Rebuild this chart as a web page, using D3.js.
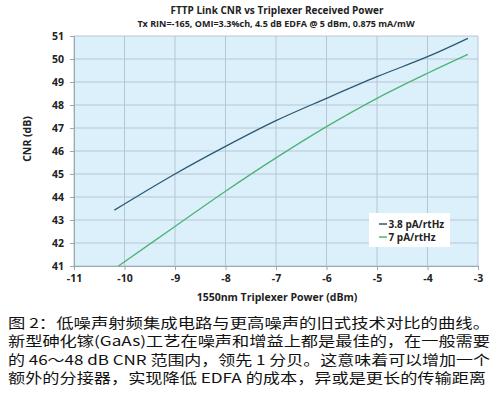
<!DOCTYPE html>
<html><head><meta charset="utf-8">
<script src="https://cdn.jsdelivr.net/npm/d3@7"></script>
<style>body{margin:0;background:#fff}svg{display:block}</style>
</head><body>
<script>
const xTicks = [-11,-10,-9,-8,-7,-6,-5,-4,-3];
const yTicks = [41,42,43,44,45,46,47,48,49,50,51];
const power38 = [-10.2,-9,-8,-7,-6,-5,-4,-3.2];
const cnr38 = [43.43,45.0,46.2,47.32,48.29,49.23,50.1,50.9];
const power7 = [-10.12,-9,-8,-7,-6,-5,-4,-3.2];
const cnr7 = [41.0,42.72,44.25,45.7,47.06,48.29,49.38,50.2];
const seriesNames = ["3.8 pA/rtHz","7 pA/rtHz"];
const title = "FTTP Link CNR vs Triplexer Received Power";
const subtitle = "Tx RIN=-165, OMI=3.3%ch, 4.5 dB EDFA @ 5 dBm, 0.875 mA/mW";
const xTitle = "1550nm Triplexer Power (dBm)";
const yTitle = "CNR (dB)";
const caption = ["图 2：低噪声射频集成电路与更高噪声的旧式技术对比的曲线。",
  "新型砷化镓(GaAs)工艺在噪声和增益上都是最佳的，在一般需要",
  "的 46～48 dB CNR 范围内，领先 1 分贝。这意味着可以增加一个",
  "额外的分接器，实现降低 EDFA 的成本，异或是更长的传输距离"];

const W=500,H=420;
const m={l:74,r:22,t:36,b:154};
const svg=d3.select("body").append("svg").attr("width",W).attr("height",H);
const x=d3.scaleLinear().domain([-11,-3]).range([m.l,W-m.r]);
const y=d3.scaleLinear().domain([41,51]).range([H-m.b,m.t]);
const font="'Open Sans', 'DejaVu Sans', sans-serif";

svg.append("rect").attr("x",x(-11)).attr("y",y(51)).attr("width",x(-3)-x(-11)).attr("height",y(41)-y(51))
  .attr("fill","#dcf0fb");
const g=svg.append("g");
g.selectAll(".vg").data(xTicks).join("line").attr("x1",d=>x(d)).attr("x2",d=>x(d)).attr("y1",y(41)).attr("y2",y(51))
  .attr("stroke","#b4c6d2").attr("stroke-width",1);
g.selectAll(".hg").data(yTicks).join("line").attr("y1",d=>y(d)).attr("y2",d=>y(d)).attr("x1",x(-11)).attr("x2",x(-3))
  .attr("stroke","#b4c6d2").attr("stroke-width",1);

const xa=svg.append("g").attr("transform",`translate(0,${y(41)})`)
  .call(d3.axisBottom(x).tickValues(xTicks).tickFormat(d=>String(d)).tickSize(4).tickPadding(5));
const ya=svg.append("g").attr("transform",`translate(${x(-11)},0)`)
  .call(d3.axisLeft(y).tickValues(yTicks).tickFormat(d=>String(d)).tickSize(4).tickPadding(6));
[xa,ya].forEach(a=>{a.select(".domain").attr("stroke","#9aa8b2");a.selectAll(".tick line").attr("stroke","#9aa8b2");
  a.selectAll("text").attr("font-family",font).attr("font-weight","bold").attr("font-size",10.5).attr("fill","#222");});

const line=d3.line().curve(d3.curveCatmullRom.alpha(0.5)).x(d=>x(d[0])).y(d=>y(d[1]));
const colors=["#2b5874","#4db374"];
svg.append("path").datum(d3.zip(power38,cnr38)).attr("d",line).attr("fill","none").attr("stroke",colors[0]).attr("stroke-width",1.3);
svg.append("path").datum(d3.zip(power7,cnr7)).attr("d",line).attr("fill","none").attr("stroke",colors[1]).attr("stroke-width",1.3);

// legend
const lg=svg.append("g").attr("transform","translate(369,213)");
lg.append("rect").attr("width",81).attr("height",34).attr("fill","#fff");
seriesNames.forEach((s,i)=>{
  lg.append("line").attr("x1",10).attr("x2",18).attr("y1",11+i*13).attr("y2",11+i*13).attr("stroke",colors[i]).attr("stroke-width",1.5);
  lg.append("text").attr("x",19.5).attr("y",15+i*13).text(s).attr("font-family",font).attr("font-weight","bold").attr("font-size",10).attr("fill","#222");
});

svg.append("text").attr("x",277).attr("y",14).attr("text-anchor","middle").text(title)
  .attr("font-family",font).attr("font-weight","bold").attr("font-size",10).attr("fill","#222");
svg.append("text").attr("x",276).attr("y",26.5).attr("text-anchor","middle").text(subtitle)
  .attr("font-family",font).attr("font-weight","bold").attr("font-size",9).attr("fill","#222");
svg.append("text").attr("x",277).attr("y",301).attr("text-anchor","middle").text(xTitle)
  .attr("font-family",font).attr("font-weight","bold").attr("font-size",10.5).attr("fill","#222");
svg.append("text").attr("transform","translate(31,139) rotate(-90)").attr("text-anchor","middle").text(yTitle)
  .attr("font-family",font).attr("font-weight","bold").attr("font-size",10.5).attr("fill","#222");

caption.forEach((c,i)=>{
  svg.append("text").attr("x",8).attr("y",328+i*18.3).text(c).attr("textLength",i==3?478:482).attr("lengthAdjust","spacingAndGlyphs")
    .attr("font-family","'Noto Sans CJK SC', sans-serif").attr("font-size",13.5).attr("fill","#111");
});
</script>
</body></html>
